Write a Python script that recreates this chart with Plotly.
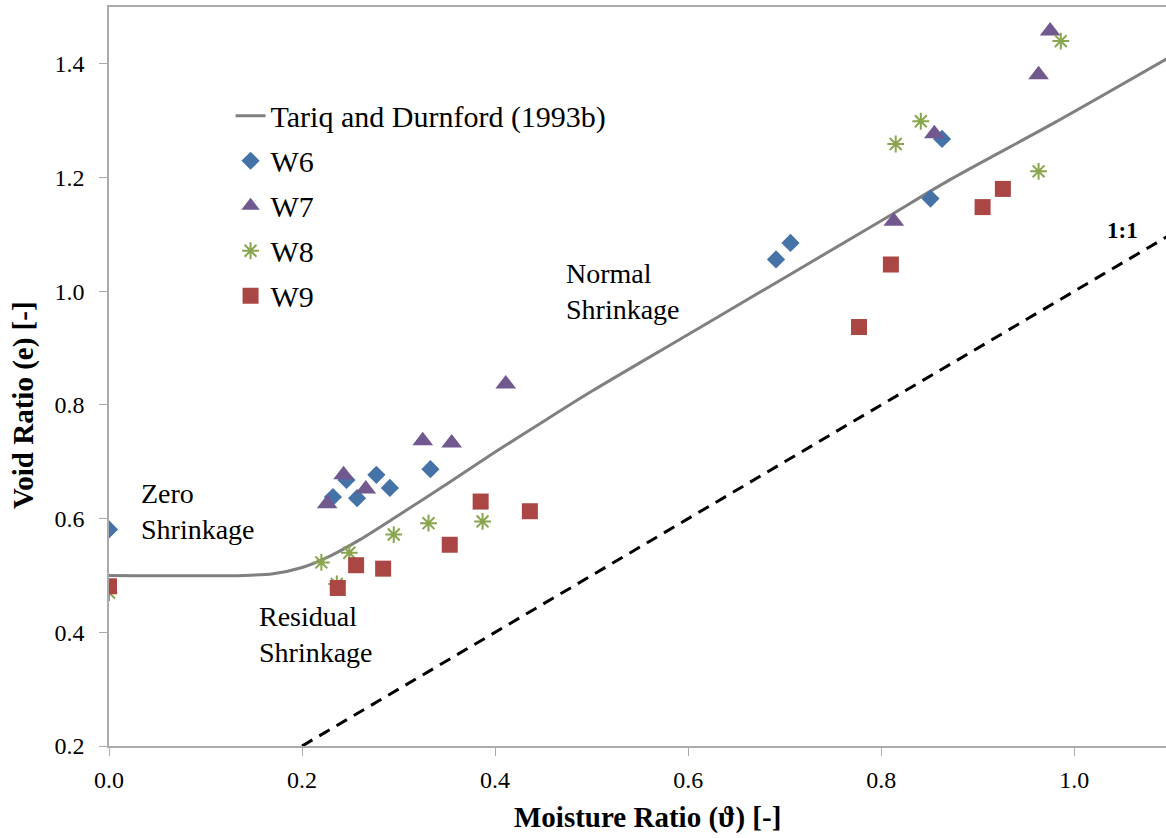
import plotly.graph_objects as go

# ---- data ----
model_x = [0.0, 0.14, 0.17, 0.2, 0.23, 0.26, 0.3, 0.35, 0.4, 0.45, 0.5, 0.6, 0.8, 0.87, 0.98, 1.1]
model_y = [0.5, 0.5, 0.503, 0.514, 0.535, 0.563, 0.606, 0.661, 0.717, 0.771, 0.824, 0.924, 1.124, 1.195, 1.297, 1.413]

one_x = [0.2, 1.1]
one_y = [0.2, 1.1]

w6_x = [0.0, 0.232, 0.246, 0.257, 0.277, 0.291, 0.333, 0.691, 0.706, 0.851, 0.863]
w6_y = [0.581, 0.638, 0.668, 0.636, 0.677, 0.654, 0.687, 1.056, 1.085, 1.163, 1.268]

w7_x = [0.226, 0.243, 0.266, 0.325, 0.355, 0.411, 0.813, 0.855, 0.963, 0.975]
w7_y = [0.626, 0.677, 0.652, 0.737, 0.733, 0.837, 1.123, 1.277, 1.381, 1.458]

w8_x = [0.0, 0.220, 0.236, 0.249, 0.295, 0.331, 0.387, 0.815, 0.841, 0.963, 0.986]
w8_y = [0.47, 0.523, 0.485, 0.540, 0.572, 0.592, 0.595, 1.259, 1.299, 1.211, 1.44]

w9_x = [0.0, 0.237, 0.256, 0.284, 0.353, 0.385, 0.436, 0.777, 0.810, 0.905, 0.926]
w9_y = [0.481, 0.478, 0.518, 0.512, 0.554, 0.630, 0.613, 0.937, 1.047, 1.148, 1.180]

x_ticks = [0.0, 0.2, 0.4, 0.6, 0.8, 1.0]
y_ticks = [0.2, 0.4, 0.6, 0.8, 1.0, 1.2, 1.4]

FONT = "Times New Roman, Liberation Serif, DejaVu Serif, serif"

fig = go.Figure()
fig.add_trace(go.Scatter(x=model_x, y=model_y, mode="lines", name="Tariq and Durnford (1993b)",
                         line=dict(color="#808080", width=3, shape="spline", smoothing=0.8),
                         legendgroup="a"))
fig.add_trace(go.Scatter(x=one_x, y=one_y, mode="lines", showlegend=False,
                         line=dict(color="black", width=3, dash="12px,8px")))
fig.add_trace(go.Scatter(x=w6_x, y=w6_y, mode="markers", name="W6", legendgroup="b",
                         marker=dict(symbol="diamond", size=14, color="#4572A7")))
fig.add_trace(go.Scatter(x=w7_x, y=w7_y, mode="markers", name="W7", legendgroup="c",
                         marker=dict(symbol="triangle-up", size=18, color="#71588F")))
fig.add_trace(go.Scatter(x=w8_x, y=w8_y, mode="markers", name="W8", legendgroup="d",
                         marker=dict(symbol="asterisk-open", size=14, color="#89A54E",
                                     line=dict(color="#89A54E", width=2))))
fig.add_trace(go.Scatter(x=w9_x, y=w9_y, mode="markers", name="W9", legendgroup="e",
                         marker=dict(symbol="square", size=16, color="#AA4643")))

ann_font = dict(family=FONT, size=28, color="black")
fig.add_annotation(x=0.031, y=0.613, text="Zero<br>Shrinkage", showarrow=False,
                   xanchor="left", yanchor="middle", align="left", font=ann_font)
fig.add_annotation(x=0.153, y=0.397, text="Residual<br>Shrinkage", showarrow=False,
                   xanchor="left", yanchor="middle", align="left", font=ann_font)
fig.add_annotation(x=0.471, y=0.999, text="Normal<br>Shrinkage", showarrow=False,
                   xanchor="left", yanchor="middle", align="left", font=ann_font)
fig.add_annotation(x=1.05, y=1.107, text="<b>1:1</b>", showarrow=False,
                   xanchor="center", yanchor="middle", font=dict(family=FONT, size=23, color="black"))

# axis titles
fig.add_annotation(xref="paper", yref="paper", x=0.509, y=-0.0974,
                   text="<b>Moisture Ratio (\u03d1) [-]</b>", showarrow=False,
                   xanchor="center", yanchor="middle", font=dict(family=FONT, size=29, color="black"))
fig.add_annotation(xref="paper", yref="paper", x=-0.0814, y=0.4614, textangle=-90,
                   text="<b>Void Ratio (e) [-]</b>", showarrow=False,
                   xanchor="center", yanchor="middle", font=dict(family=FONT, size=29, color="black"))

axis_common = dict(showgrid=False, zeroline=False, showline=True, linecolor="#ABABAB",
                   linewidth=1.5, ticks="outside", tickcolor="#ABABAB", ticklen=8, tickwidth=1.2,
                   tickfont=dict(family=FONT, size=24, color="black"), tickformat=".1f")

fig.update_xaxes(range=[0, 1.095], tickvals=x_ticks, mirror=True, ticklabelstandoff=3, **axis_common)
fig.update_yaxes(range=[0.2, 1.5], tickvals=y_ticks, ticklabelstandoff=10, **axis_common)

fig.update_layout(
    width=1166, height=838,
    margin=dict(l=109, r=0, t=7, b=92),
    paper_bgcolor="white", plot_bgcolor="white",
    font=dict(family=FONT, color="black"),
    legend=dict(x=0.115, y=0.888, xanchor="left", yanchor="top",
                font=dict(family=FONT, size=30, color="black"),
                bgcolor="rgba(0,0,0,0)", traceorder="grouped", tracegroupgap=3),
)

fig.write_html("out.html", config={"displayModeBar": False},
               post_script="document.body.style.margin='0';document.body.style.overflow='hidden';")
